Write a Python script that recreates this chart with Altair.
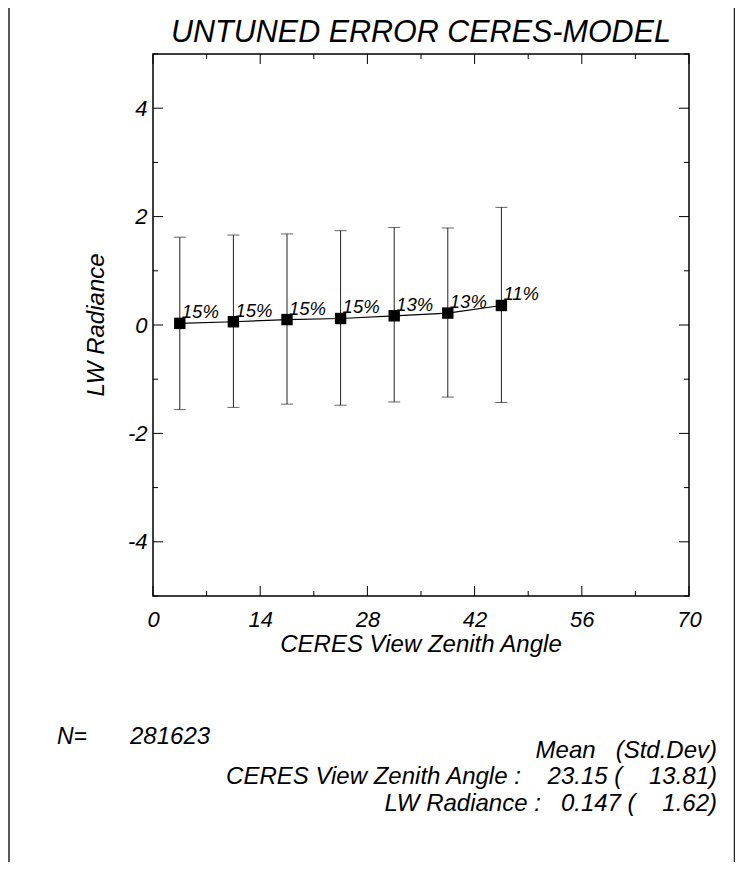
import altair as alt
import pandas as pd

# ---- data ----
angle = [3.5, 10.5, 17.5, 24.5, 31.5, 38.5, 45.5]
mean_err = [0.03, 0.06, 0.10, 0.12, 0.17, 0.22, 0.36]
upper = [1.62, 1.66, 1.68, 1.74, 1.80, 1.79, 2.17]
lower = [-1.56, -1.52, -1.46, -1.48, -1.42, -1.33, -1.43]
pct = ["15%", "15%", "15%", "15%", "13%", "13%", "11%"]

x_major = [0, 14, 28, 42, 56, 70]
x_minor = [7, 21, 35, 49, 63]
y_major = [-4, -2, 0, 2, 4]
y_minor = [-5, -3, -1, 1, 3, 5]

title_text = "UNTUNED ERROR CERES-MODEL"
x_title = "CERES View Zenith Angle"
y_title = "LW Radiance"
stats_lines = [
    "Mean\u00a0\u00a0\u00a0(Std.Dev)",
    "CERES View Zenith Angle :\u00a0\u00a0\u00a0 23.15 (\u00a0\u00a0\u00a0 13.81)",
    "LW Radiance :\u00a0\u00a0 0.147 (\u00a0\u00a0\u00a0 1.62)",
]
n_label = "N="
n_value = "281623"

W, H = 536, 542
FONT = "Liberation Sans"

df = pd.DataFrame({"angle": angle, "mean": mean_err, "upper": upper,
                   "lower": lower, "pct": pct})

xs = alt.Scale(domain=[0, 70], nice=False, zero=False)
ys = alt.Scale(domain=[-5, 5], nice=False, zero=False)

x_axis = alt.Axis(values=x_major, labelExpr="'' + datum.value", title=None, grid=False, ticks=False,
                  domain=False, labelFont=FONT, labelFontStyle="italic",
                  labelFontSize=22, labelColor="black", labelPadding=13,
                  labelFlush=False, labelOverlap=False)
y_axis = alt.Axis(values=y_major, labelExpr="'' + datum.value", title=None, grid=False, ticks=False,
                  domain=False, labelFont=FONT, labelFontStyle="italic",
                  labelFontSize=22, labelColor="black", labelPadding=6,
                  labelFlush=False, labelOverlap=False)

base = alt.Chart(df)

stems = base.mark_rule(color="#222222", strokeWidth=1).encode(
    x=alt.X("angle:Q", scale=xs, axis=x_axis),
    y=alt.Y("lower:Q", scale=ys, axis=y_axis),
    y2="upper:Q",
)
cap_top = base.mark_tick(orient="horizontal", size=12, thickness=1, color="#222222").encode(
    x=alt.X("angle:Q", scale=xs), y=alt.Y("upper:Q", scale=ys))
cap_bot = base.mark_tick(orient="horizontal", size=12, thickness=1, color="#222222").encode(
    x=alt.X("angle:Q", scale=xs), y=alt.Y("lower:Q", scale=ys))
line = base.mark_line(color="black", strokeWidth=1.2).encode(
    x=alt.X("angle:Q", scale=xs), y=alt.Y("mean:Q", scale=ys))
pts = base.mark_square(size=130, color="black", opacity=1).encode(
    x=alt.X("angle:Q", scale=xs), y=alt.Y("mean:Q", scale=ys))
labels = base.mark_text(align="left", baseline="alphabetic", dx=2, dy=-5,
                        font=FONT, fontStyle="italic", fontSize=18.5,
                        color="black").encode(
    x=alt.X("angle:Q", scale=xs), y=alt.Y("mean:Q", scale=ys), text="pct:N")

# inward tick marks on all four sides
xmaj = alt.Chart(pd.DataFrame({"v": x_major}))
xmin = alt.Chart(pd.DataFrame({"v": x_minor}))
ymaj = alt.Chart(pd.DataFrame({"v": y_major}))
ymin = alt.Chart(pd.DataFrame({"v": y_minor}))
tk = dict(color="black", strokeWidth=1)
ticks = [
    xmaj.mark_rule(**tk).encode(x=alt.X("v:Q", scale=xs), y=alt.value(H), y2=alt.value(H - 10)),
    xmin.mark_rule(**tk).encode(x=alt.X("v:Q", scale=xs), y=alt.value(H), y2=alt.value(H - 5)),
    xmaj.mark_rule(**tk).encode(x=alt.X("v:Q", scale=xs), y=alt.value(0), y2=alt.value(10)),
    xmin.mark_rule(**tk).encode(x=alt.X("v:Q", scale=xs), y=alt.value(0), y2=alt.value(5)),
    ymaj.mark_rule(**tk).encode(y=alt.Y("v:Q", scale=ys), x=alt.value(0), x2=alt.value(10)),
    ymin.mark_rule(**tk).encode(y=alt.Y("v:Q", scale=ys), x=alt.value(0), x2=alt.value(5)),
    ymaj.mark_rule(**tk).encode(y=alt.Y("v:Q", scale=ys), x=alt.value(W), x2=alt.value(W - 10)),
    ymin.mark_rule(**tk).encode(y=alt.Y("v:Q", scale=ys), x=alt.value(W), x2=alt.value(W - 5)),
]

one = alt.Chart(pd.DataFrame({"a": [0]}))


def txt(s, x, y, size, align="center", angle=None):
    kw = dict(align=align, baseline="middle", font=FONT, fontStyle="italic",
              fontSize=size, color="black")
    if angle is not None:
        kw["angle"] = angle
    return one.mark_text(text=s, **kw).encode(x=alt.value(x), y=alt.value(y))


texts = [
    txt(title_text, W / 2, -21, 30.5),
    txt(x_title, W / 2, 591, 24),
    txt(y_title, -56, 271, 24, angle=270),
    txt(n_label, -96, 683, 23, align="left"),
    txt(n_value, -23, 683, 24, align="left"),
    txt(stats_lines[0], 564, 697, 24, align="right"),
    txt(stats_lines[1], 564, 723, 24, align="right"),
    txt(stats_lines[2], 564, 750, 24, align="right"),
]

frame = [
    one.mark_rule(color="#222222", strokeWidth=1.5).encode(
        x=alt.value(-144), y=alt.value(-46), y2=alt.value(H + 266)),
    one.mark_rule(color="#222222", strokeWidth=1.5).encode(
        x=alt.value(581.5), y=alt.value(-46), y2=alt.value(H + 266)),
]

chart = alt.layer(stems, cap_top, cap_bot, line, pts, labels, *ticks, *texts, *frame).properties(
    width=W, height=H,
    autosize=alt.AutoSizeParams(type="none"),
    padding={"left": 145, "top": 46, "right": 46, "bottom": 266},
    background="white",
).configure_view(stroke="black", strokeWidth=1.5)

chart.save("out.html", embed_options={"renderer": "svg", "actions": False})
